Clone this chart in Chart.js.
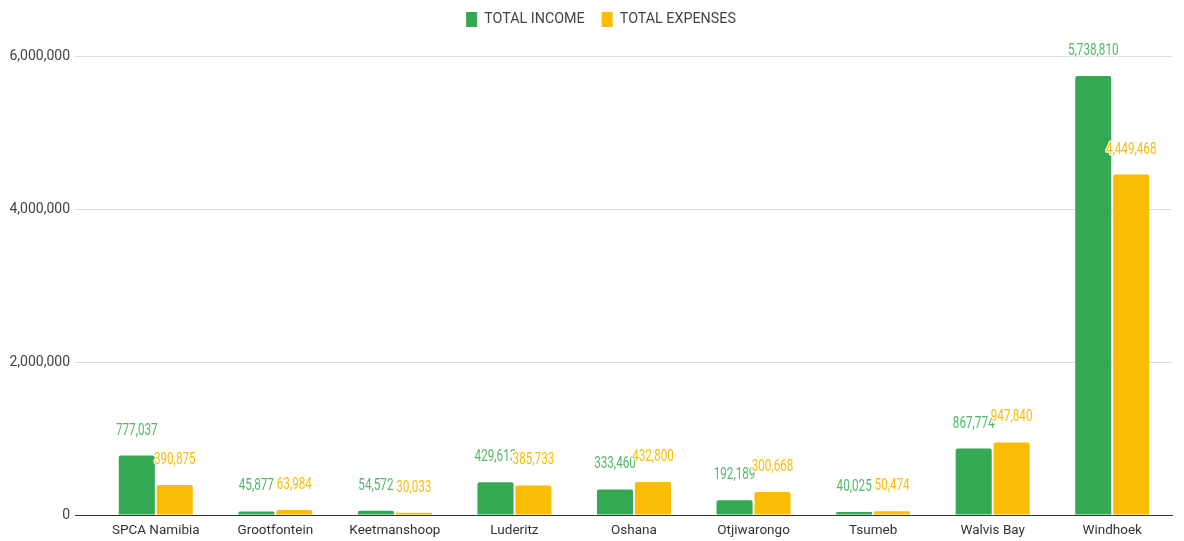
<!DOCTYPE html>
<html>
<head>
<meta charset="utf-8">
<script src="https://cdn.jsdelivr.net/npm/chart.js@4/dist/chart.umd.min.js"></script>
<style>
  html, body { margin: 0; padding: 0; background: #fff; }
  #wrap { width: 1184px; height: 541px; }
</style>
</head>
<body>
<div id="wrap"><canvas id="chart"></canvas></div>
<script>
const branches = ["SPCA Namibia", "Grootfontein", "Keetmanshoop", "Luderitz", "Oshana", "Otjiwarongo", "Tsumeb", "Walvis Bay", "Windhoek"];
const totalIncome = [777037, 45877, 54572, 429613, 333460, 192189, 40025, 867774, 5738810];
const totalExpenses = [390875, 63984, 30033, 385733, 432800, 300668, 50474, 947840, 4449468];
const yTicks = [0, 2000000, 4000000, 6000000];

const fmt = v => v.toLocaleString('en-US');

// value labels above each bar, narrow font with a white halo like the original
const barLabels = {
  id: 'barLabels',
  afterDatasetsDraw(chart) {
    const ctx = chart.ctx;
    const sx = 0.73;
    chart.data.datasets.forEach((ds, i) => {
      const meta = chart.getDatasetMeta(i);
      meta.data.forEach((bar, j) => {
        const txt = fmt(ds.data[j]);
        ctx.save();
        ctx.translate(bar.x, bar.y - 25);
        ctx.scale(sx, 1);
        ctx.font = '16px Roboto';
        ctx.textAlign = 'center';
        ctx.textBaseline = 'middle';
        ctx.lineJoin = 'round';
        ctx.strokeStyle = '#fff';
        ctx.lineWidth = 3;
        ctx.strokeText(txt, 0, 0);
        ctx.fillStyle = ds.labelColor;
        ctx.fillText(txt, 0, 0);
        ctx.restore();
      });
    });
  }
};

// legend: extra space under it, nudged up and a bit right
const legendSpace = {
  id: 'legendSpace',
  beforeInit(chart) {
    const fit = chart.legend.fit;
    chart.legend.fit = function () {
      fit.bind(chart.legend)();
      this.height += 12;
    };
  },
  afterLayout(chart) {
    chart.legend.top -= 7;
    chart.legend.left += 30;
  }
};

new Chart(document.getElementById('chart').getContext('2d'), {
  type: 'bar',
  data: {
    labels: branches,
    datasets: [{
      label: 'TOTAL INCOME',
      data: totalIncome,
      backgroundColor: '#34A853',
      labelColor: '#52B868',
      borderRadius: 2,
      barPercentage: 0.95,
      categoryPercentage: 0.635
    }, {
      label: 'TOTAL EXPENSES',
      data: totalExpenses,
      backgroundColor: '#FBBC04',
      labelColor: '#FBBC04',
      borderRadius: 2,
      barPercentage: 0.95,
      categoryPercentage: 0.635
    }]
  },
  options: {
    responsive: true,
    maintainAspectRatio: false,
    animation: false,
    layout: { padding: { top: 2, right: 12, bottom: 2, left: 0 } },
    plugins: {
      legend: {
        position: 'top',
        labels: {
          boxWidth: 11,
          boxHeight: 15,
          padding: 17,
          color: '#444',
          font: { family: 'Roboto', size: 14.3 }
        }
      },
      tooltip: { enabled: false }
    },
    scales: {
      x: {
        afterFit(scale) { scale.height = 24; },
        grid: { display: false, drawTicks: false },
        border: { display: true, color: '#333', width: 1 },
        ticks: { color: '#333', padding: 8, font: { family: 'Roboto', size: 13.5 } }
      },
      y: {
        min: 0,
        max: 6000000,
        afterFit(scale) { scale.width = 96; },
        afterBuildTicks(scale) { scale.ticks = yTicks.map(v => ({ value: v })); },
        grid: {
          color: c => (c.tick && c.tick.value === 0 ? '#333' : '#ddd'),
          drawTicks: true,
          tickLength: 21
        },
        border: { display: false },
        ticks: {
          color: '#444',
          padding: 5,
          font: { family: 'Roboto', size: 14 },
          callback: v => fmt(v)
        }
      }
    }
  },
  plugins: [barLabels, legendSpace]
});
</script>
</body>
</html>
